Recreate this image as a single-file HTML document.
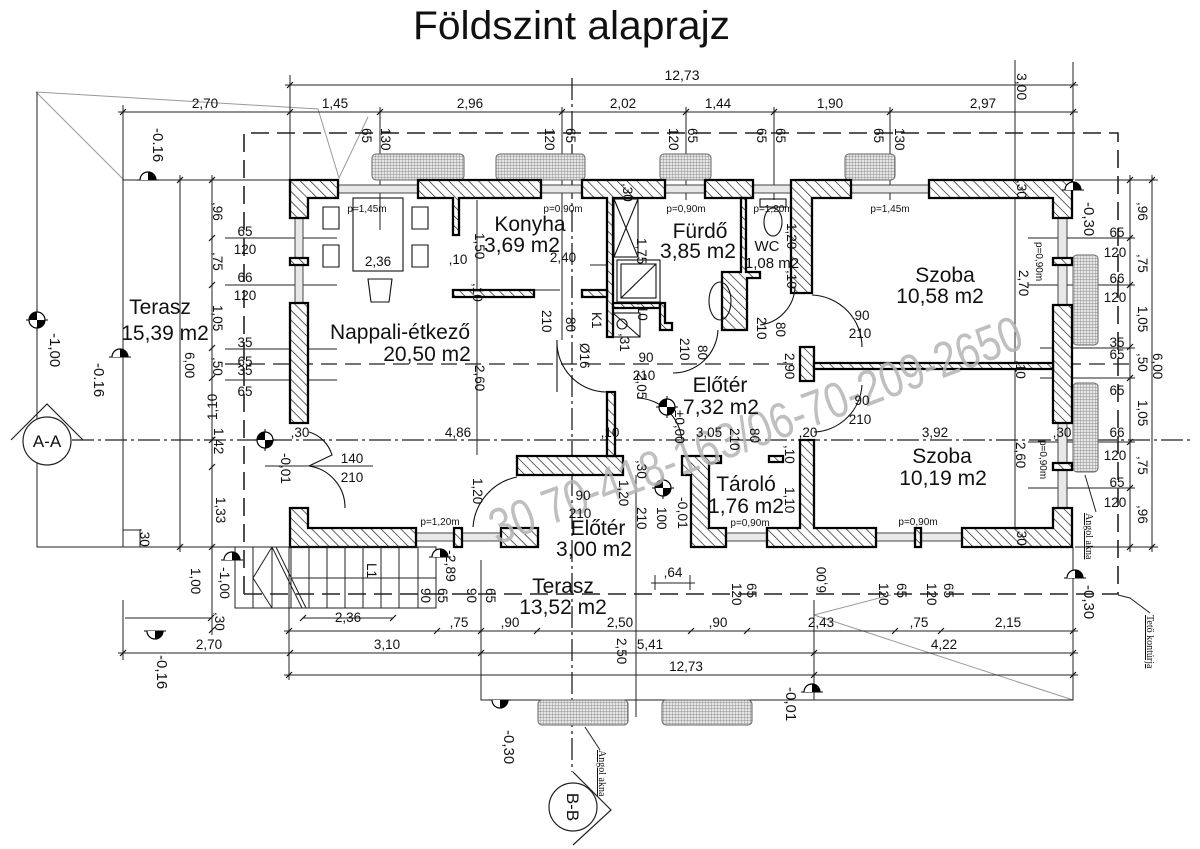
<!DOCTYPE html>
<html><head><meta charset="utf-8"><style>
html,body{margin:0;padding:0;background:#fff}
svg{display:block}
text{font-family:"Liberation Sans",sans-serif;fill:#111}
.d{font-size:13.5px}
.s{font-size:10px}
.r{font-size:21px}
.t{font-family:"Liberation Serif",serif;font-size:10px;text-decoration:underline}
</style></head><body>
<svg width="1200" height="849" viewBox="0 0 1200 849">
<defs>
<pattern id="h" width="7" height="7" patternUnits="userSpaceOnUse" patternTransform="rotate(-45)">
<rect width="7" height="7" fill="#fff"/><line x1="0" y1="0" x2="0" y2="7" stroke="#222" stroke-width="1.4"/>
</pattern>
<pattern id="g" width="3" height="3" patternUnits="userSpaceOnUse"><rect width="3" height="3" fill="#e6e6e6"/><path d="M0 0H3M0 0V3" stroke="#777" stroke-width="0.7"/></pattern>
<g id="cm"><line x1="-11" y1="0" x2="11" y2="0" stroke="#000"/><line x1="0" y1="-11" x2="0" y2="11" stroke="#000"/><circle r="8" fill="#fff" stroke="#000" stroke-width="1.2"/><path d="M0,0 L8,0 A8,8 0 0,1 0,8Z M0,0 L-8,0 A8,8 0 0,1 0,-8Z" fill="#000"/></g>
<g id="hm"><line x1="-11" y1="0" x2="11" y2="0" stroke="#000"/><path d="M-8,0 A8,8 0 0,1 8,0" fill="#fff" stroke="#000" stroke-width="1.2"/><path d="M0,0 L0,-8 A8,8 0 0,1 8,0Z" fill="#000"/></g>
<g id="hd"><line x1="-11" y1="0" x2="11" y2="0" stroke="#000"/><path d="M-8,0 A8,8 0 0,0 8,0" fill="#fff" stroke="#000" stroke-width="1.2"/><path d="M0,0 L0,8 A8,8 0 0,0 8,0Z" fill="#000"/></g>
</defs>

<!-- Title -->
<text x="413" y="39" font-size="40" textLength="317" lengthAdjust="spacingAndGlyphs">Földszint alaprajz</text>

<!-- grey roof lines -->
<g stroke="#999" stroke-width="1" fill="none">
<path d="M36,92 L318,109 L339,178 L368,117 M36,92 L123,179"/>
<path d="M814,615 L1073,700 M814,615 L891,595"/>
</g>

<!-- dimension lines -->
<g stroke="#222" stroke-width="1" fill="none">
<path d="M285,85 H1078 M290,75 V110 M1073,62 V180"/>
<path d="M118,112 H1078 M123,105 V180 M380,107 V230 M562,107 V340 M686,107 V200 M774,107 V200 M890,107 V200 M290,105 V180"/>
<path d="M1015,60 V547"/>
<path d="M1130,175 V552 M1152,175 V552 M1075,180 H1158 M1075,547 H1158"/>
<path d="M1028,238 H1135 M1028,285 H1135 M1040,348 H1135 M1040,378 H1135 M1028,442 H1135 M1028,488 H1135"/>
<path d="M180,175 V552 M212,175 V635 M123,180 H290 M123,180 V547 M37,92 V547 H290"/>
<path d="M225,238 H337 M225,285 H337 M225,349 H337 M225,380 H337"/>
<path d="M123,530 H140 V547"/>
<path d="M125,618 H211 M303,618 H393"/>
<path d="M284,631 H1078 M284,653 H1078 M118,653 H290 M284,675 H1078"/>
<path d="M289,547 V680 M123,600 V660 M481,560 V700 H1073 V547 M636,475 V717 M814,600 V700 M1073,547 V700"/>
<path d="M651,583 H695 M655,575 V590 M690,575 V590"/>
<path d="M477,200 V455 M265,466 H373 M1085,475 L1096,512 M585,727 L600,750 M1118,595 L1130,598 L1150,613"/>
<path d="M590,265 H610 M455,290 H560"/>
<path d="M1016,363 V372"/>
</g>
<!-- ticks -->
<g stroke="#111" stroke-width="1.2" fill="none">
<path d="M287,88 L293,82 M1070,88 L1076,82
M120,115 L126,109 M287,115 L293,109 M377,115 L383,109 M559,115 L565,109 M683,115 L689,109 M771,115 L777,109 M887,115 L893,109 M1070,115 L1076,109
M1127,183 L1133,177 M1127,241 L1133,235 M1127,288 L1133,282 M1127,350 L1133,344 M1127,381 L1133,375 M1127,445 L1133,439 M1127,491 L1133,485 M1127,550 L1133,544
M1149,183 L1155,177 M1149,550 L1155,544
M177,183 L183,177 M177,550 L183,544
M209,183 L215,177 M209,241 L215,235 M209,288 L215,282 M209,351 L215,345 M209,381 L215,375 M209,443 L215,437 M209,470 L215,464 M209,550 L215,544 M209,633 L215,627
M208,621 L214,615 M300,621 L306,615 M390,621 L396,615
M286,634 L292,628 M434,634 L440,628 M478,634 L484,628 M534,634 L540,628 M688,634 L694,628 M744,634 L750,628 M892,634 L898,628 M938,634 L944,628 M1070,634 L1076,628
M120,656 L126,650 M287,656 L293,650 M478,656 L484,650 M811,656 L817,650 M1070,656 L1076,650
M286,678 L292,672 M811,678 L817,672 M1070,678 L1076,672"/>
</g>

<!-- roof dashed outline -->
<path d="M244,594 V133 H1118 V594 H244" fill="none" stroke="#222" stroke-width="1.6" stroke-dasharray="18 8"/>
<path d="M225,364 H1130" fill="none" stroke="#222" stroke-width="1.3" stroke-dasharray="16 8"/>
<!-- section axes -->
<path d="M72,440 H1190" fill="none" stroke="#222" stroke-width="1.3" stroke-dasharray="22 4 3 4"/>
<path d="M572,78 V772" fill="none" stroke="#222" stroke-width="1.3" stroke-dasharray="22 4 3 4"/>

<!-- light wells -->
<g fill="url(#g)" stroke="#666" stroke-width="1">
<rect x="372" y="154" width="92" height="26" rx="4"/>
<rect x="496" y="154" width="89" height="26" rx="4"/>
<rect x="660" y="154" width="51" height="26" rx="4"/>
<rect x="845" y="154" width="50" height="26" rx="4"/>
<rect x="1073" y="255" width="25" height="90" rx="4"/>
<rect x="1073" y="383" width="25" height="89" rx="4"/>
<rect x="538" y="700" width="90" height="25" rx="4"/>
<rect x="662" y="700" width="90" height="25" rx="4"/>
</g>

<!-- windows -->
<g fill="#e8e8e8" stroke="#333" stroke-width="0.9">
<rect x="338" y="185" width="80" height="8"/>
<rect x="541" y="185" width="41" height="8"/>
<rect x="665" y="185" width="40" height="8"/>
<rect x="753" y="185" width="38" height="8"/>
<rect x="851" y="185" width="78" height="8"/>
<rect x="295" y="218" width="8" height="85"/>
<rect x="1058" y="218" width="9" height="87"/>
<rect x="1058" y="423" width="9" height="85"/>
<rect x="416" y="533" width="85" height="8"/>
<rect x="726" y="533" width="41" height="8"/>
<rect x="876" y="533" width="86" height="8"/>
</g>

<!-- walls -->
<g fill="url(#h)" stroke="#000" stroke-width="2.3" stroke-linejoin="miter">
<path d="M290,180 H338 V198 H308 V218 H290Z"/>
<path d="M418,180 H541 V198 H459 V235 H453 V198 H418Z"/>
<path d="M582,180 H665 V198 H613 V337 H607 V198 H582Z"/>
<path d="M705,180 H753 V198 H705Z"/>
<path d="M791,180 H851 V198 H812 V293 H791Z"/>
<path d="M929,180 H1072 V218 H1053 V198 H929Z"/>
<path d="M1053,305 H1072 V423 H1053Z"/>
<path d="M1053,508 H1072 V547 H962 V528 H1053Z"/>
<path d="M767,528 H800 V440 H814 V528 H876 V547 H767Z"/>
<path d="M682,456 H721 V463 H709 V528 H726 V547 H691 V475 H682Z"/>
<path d="M769,456 H783 V462 H769Z"/>
<path d="M501,528 H538 V547 H501Z"/>
<path d="M290,508 H308 V528 H416 V547 H290Z"/>
<path d="M290,303 H308 V423 H290Z"/>
<path d="M517,456 H623 V475 H517Z"/>
<path d="M607,392 H615 V456 H607Z"/>
<path d="M800,347 H814 V381 H800Z"/>
<path d="M814,363 H1053 V369 H814Z"/>
<path d="M453,290 H534 V297 H453Z"/>
<path d="M582,290 H607 V297 H582Z"/>
<path d="M741,198 H746 V272 H760 V278 H747 V330 H722 V272 H741Z"/>
<path d="M613,303 H660 V308 H613Z"/>
<path d="M660,303 H665 V323 H672 V330 H660Z"/>
<path d="M290,258 H308 V265 H290Z"/>
<path d="M1053,258 H1072 V265 H1053Z"/>
<path d="M1053,463 H1072 V470 H1053Z"/>
<path d="M454,528 H462 V547 H454Z"/>
<path d="M915,528 H921 V547 H915Z"/>
</g>

<!-- fixtures -->
<g fill="none" stroke="#111" stroke-width="1.1">
<rect x="353" y="198" width="50" height="73"/>
<path d="M323,207 H339 V229 H323Z M323,245 H339 V267 H323Z M412,207 H428 V229 H412Z M412,245 H428 V267 H412Z"/>
<path d="M368,279 H392 L389,302 H371Z"/>
<rect x="617" y="260" width="43" height="42"/><rect x="621" y="264" width="35" height="34"/>
<path d="M621,298 L656,264"/>
<rect x="614" y="199" width="24" height="58"/><path d="M614,199 L638,257 M638,199 L614,257"/>
<rect x="613" y="313" width="27" height="24"/><circle cx="622" cy="324" r="5"/><path d="M613,313 L640,337"/>
<rect x="760" y="199" width="26" height="8"/><ellipse cx="773" cy="222" rx="9" ry="14"/>
<ellipse cx="720" cy="301" rx="11" ry="19"/>
<!-- doors -->
<path d="M309,466 A42,42 0 0,1 345,508 M309,432 A34,34 0 0,1 332,455 L309,466"/>
<path d="M557,340 A50,50 0 0,0 607,392 M557,340 V392"/>
<path d="M637,398 A46,46 0 0,1 682,445"/>
<path d="M812,295 A52,52 0 0,1 862,347"/>
<path d="M814,432 A50,50 0 0,0 862,385"/>
<path d="M795,287 A40,40 0 0,1 760,325"/>
<path d="M517,477 A55,55 0 0,0 473,527"/>
<path d="M673,373 A45,45 0 0,0 718,330"/>
</g>

<!-- stairs -->
<g fill="none" stroke="#222" stroke-width="1">
<rect x="235" y="547" width="201" height="61"/>
<path d="M253,547 V608 M272,547 V608 M291,547 V608 M309,547 V608 M327,547 V608 M345,547 V608 M363,547 V608 M381,547 V608 M399,547 V608 M418,547 V608"/>
<path d="M291,578 H436 M272,547 L253,578 L272,608 M272,547 L302,608 M276,547 L306,608"/>
</g>

<!-- level markers -->
<use href="#cm" x="37" y="320"/>
<use href="#cm" x="265" y="440"/>
<use href="#cm" x="667" y="407"/>
<use href="#cm" x="663" y="488"/>
<use href="#hm" x="148" y="180"/>
<use href="#hm" x="120" y="357"/>
<use href="#hm" x="232" y="560"/>
<use href="#hm" x="440" y="557"/>
<use href="#hd" x="155" y="631"/>
<use href="#hd" x="500" y="700"/>
<use href="#hm" x="812" y="692"/>
<use href="#hm" x="1075" y="578"/>
<use href="#hm" x="1073" y="190"/>

<!-- section markers -->
<g fill="#fff" stroke="#222" stroke-width="1.2">
<path d="M11,440 L47,404 L83,440" fill="none"/>
<circle cx="47" cy="441" r="24"/>
<path d="M573,772 L611,810 L573,845" fill="none"/>
<circle cx="573" cy="807" r="24"/>
</g>
<text x="47" y="447" font-size="17" text-anchor="middle">A-A</text>
<text transform="translate(567,807) rotate(90)" font-size="17" text-anchor="middle">B-B</text>

<!-- watermark -->
<text transform="translate(497,545) rotate(-20.5)" font-size="50" style="fill:#b4b4b4;opacity:0.85" textLength="565" lengthAdjust="spacingAndGlyphs">30 70-418-163/06-70-209-2650</text>

<!-- room labels -->
<g class="r" text-anchor="middle">
<text x="530" y="231">Konyha</text>
<text x="522" y="252">3,69 m2</text>
<text x="700" y="238">Fürdő</text>
<text x="698" y="258">3,85 m2</text>
<text x="945" y="282">Szoba</text>
<text x="940" y="303">10,58 m2</text>
<text x="400" y="339">Nappali-étkező</text>
<text x="427" y="361">20,50 m2</text>
<text x="720" y="392">Előtér</text>
<text x="721" y="414">7,32 m2</text>
<text x="942" y="463">Szoba</text>
<text x="943" y="485">10,19 m2</text>
<text x="746" y="491">Tároló</text>
<text x="746" y="513">1,76 m2</text>
<text x="598" y="535">Előtér</text>
<text x="594" y="556">3,00 m2</text>
<text x="563" y="593">Terasz</text>
<text x="563" y="614">13,52 m2</text>
<text x="160" y="314">Terasz</text>
<text x="165" y="340">15,39 m2</text>
</g>
<text x="767" y="251" font-size="15" text-anchor="middle">WC</text>
<text x="772" y="268" font-size="15" text-anchor="middle">1,08 m2</text>

<!-- horizontal dim labels -->
<g class="d" text-anchor="middle">
<text x="682" y="80" font-size="14">12,73</text>
<text x="205" y="108">2,70</text><text x="335" y="108">1,45</text><text x="470" y="108">2,96</text><text x="623" y="108">2,02</text><text x="718" y="108">1,44</text><text x="830" y="108">1,90</text><text x="983" y="108">2,97</text>
<text x="245" y="236">65</text><text x="245" y="254">120</text><text x="245" y="282">66</text><text x="245" y="300">120</text><text x="245" y="347">35</text><text x="245" y="366">65</text><text x="245" y="375">35</text><text x="245" y="396">65</text>
<text x="1117" y="237">65</text><text x="1115" y="257">120</text><text x="1117" y="283">66</text><text x="1115" y="302">120</text><text x="1117" y="347">35</text><text x="1117" y="359">65</text><text x="1117" y="395">65</text><text x="1117" y="437">66</text><text x="1115" y="460">120</text><text x="1117" y="487">65</text><text x="1115" y="507">120</text>
<text x="378" y="266">2,36</text><text x="458" y="264">,10</text><text x="563" y="262">2,40</text>
<text x="300" y="437">,30</text><text x="458" y="437">4,86</text><text x="610" y="437">,10</text><text x="709" y="437">3,05</text><text x="808" y="437">,20</text><text x="935" y="437">3,92</text><text x="1062" y="437">,30</text>
<text x="352" y="463">140</text><text x="352" y="482">210</text>
<text x="646" y="362">90</text><text x="644" y="380">210</text>
<text x="862" y="320">90</text><text x="860" y="338">210</text>
<text x="862" y="405">90</text><text x="860" y="424">210</text>
<text x="583" y="500">90</text><text x="580" y="518">210</text>
<text x="673" y="577">,64</text>
<text x="348" y="622">2,36</text>
<text x="459" y="627">,75</text><text x="510" y="627">,90</text><text x="620" y="627">2,50</text><text x="718" y="627">,90</text><text x="821" y="627">2,43</text><text x="919" y="627">,75</text><text x="1008" y="627">2,15</text>
<text x="209" y="649">2,70</text><text x="387" y="649">3,10</text><text x="650" y="649">5,41</text><text x="944" y="649">4,22</text>
<text x="686" y="671">12,73</text>
</g>
<g class="s" text-anchor="middle">
<text x="367" y="212">p=1,45m</text>
<text x="563" y="212">p=0,90m</text>
<text x="686" y="212">p=0,90m</text>
<text x="773" y="212">p=1,20m</text>
<text x="890" y="212">p=1,45m</text>
<text x="440" y="525">p=1,20m</text>
<text x="750" y="526">p=0,90m</text>
<text x="918" y="525">p=0,90m</text>
</g>

<!-- rotated dim labels (reading downward) -->
<g class="d">
<text transform="translate(153,128) rotate(90)" font-size="15">-0.16</text>
<text transform="translate(1017,73) rotate(90)" font-size="14">3,00</text>
<text transform="translate(362,128) rotate(90)">65</text>
<text transform="translate(381,128) rotate(90)">130</text>
<text transform="translate(545,128) rotate(90)">120</text>
<text transform="translate(566,128) rotate(90)">65</text>
<text transform="translate(669,128) rotate(90)">120</text>
<text transform="translate(688,128) rotate(90)">65</text>
<text transform="translate(757,128) rotate(90)">65</text>
<text transform="translate(776,128) rotate(90)">65</text>
<text transform="translate(874,128) rotate(90)">65</text>
<text transform="translate(895,128) rotate(90)">130</text>
<text transform="translate(213,202) rotate(90)">,96</text>
<text transform="translate(213,252) rotate(90)">,75</text>
<text transform="translate(213,305) rotate(90)">1,05</text>
<text transform="translate(213,357) rotate(90)">,50</text>
<text transform="translate(214,428) rotate(90)">1,42</text>
<text transform="translate(216,497) rotate(90)">1,33</text>
<text transform="translate(185,352) rotate(90)">6,00</text>
<text transform="translate(140,528) rotate(90)">,30</text>
<text transform="translate(94,363) rotate(90)" font-size="15">-0.16</text>
<text transform="translate(50,333) rotate(90)" font-size="15">-1,00</text>
<text transform="translate(281,453) rotate(90)">-0,01</text>
<text transform="translate(191,568) rotate(90)">1,00</text>
<text transform="translate(220,567) rotate(90)" font-size="14">-1,00</text>
<text transform="translate(446,550) rotate(90)" font-size="14">-2,89</text>
<text transform="translate(367,563) rotate(90)">L1</text>
<text transform="translate(421,588) rotate(90)">90</text>
<text transform="translate(438,588) rotate(90)">65</text>
<text transform="translate(467,588) rotate(90)">90</text>
<text transform="translate(486,588) rotate(90)">65</text>
<text transform="translate(215,612) rotate(90)">,30</text>
<text transform="translate(157,655) rotate(90)" font-size="15">-0,16</text>
<text transform="translate(475,233) rotate(90)">1,50</text>
<text transform="translate(473,283) rotate(90)">,10</text>
<text transform="translate(475,365) rotate(90)">2,60</text>
<text transform="translate(542,310) rotate(90)">210</text>
<text transform="translate(566,317) rotate(90)">80</text>
<text transform="translate(592,312) rotate(90)">K1</text>
<text transform="translate(580,343) rotate(90)">Ø16</text>
<text transform="translate(620,333) rotate(90)">,31</text>
<text transform="translate(637,238) rotate(90)">1,75</text>
<text transform="translate(638,302) rotate(90)">,10</text>
<text transform="translate(680,338) rotate(90)">210</text>
<text transform="translate(698,345) rotate(90)">80</text>
<text transform="translate(787,223) rotate(90)">1,20</text>
<text transform="translate(787,270) rotate(90)">,10</text>
<text transform="translate(757,317) rotate(90)">210</text>
<text transform="translate(776,322) rotate(90)">80</text>
<text transform="translate(785,353) rotate(90)">2,90</text>
<text transform="translate(637,373) rotate(90)">2,05</text>
<text transform="translate(675,410) rotate(90)">±0,00</text>
<text transform="translate(730,428) rotate(90)">210</text>
<text transform="translate(750,428) rotate(90)">80</text>
<text transform="translate(637,460) rotate(90)">,30</text>
<text transform="translate(619,480) rotate(90)">1,20</text>
<text transform="translate(473,478) rotate(90)">1,20</text>
<text transform="translate(637,507) rotate(90)">210</text>
<text transform="translate(657,507) rotate(90)">100</text>
<text transform="translate(678,497) rotate(90)" font-size="14">-0,01</text>
<text transform="translate(785,445) rotate(90)">,10</text>
<text transform="translate(785,487) rotate(90)">1,10</text>
<text transform="translate(1019,270) rotate(90)">2,70</text>
<text transform="translate(1016,442) rotate(90)">2,60</text>
<text transform="translate(1016,360) rotate(90)">,10</text>
<text transform="translate(1017,180) rotate(90)">,30</text>
<text transform="translate(1017,527) rotate(90)">,30</text>
<text transform="translate(623,183) rotate(90)">,30</text>
<text transform="translate(1084,202) rotate(90)" font-size="15">-0,30</text>
<text transform="translate(1138,202) rotate(90)">,96</text>
<text transform="translate(1138,254) rotate(90)">,75</text>
<text transform="translate(1138,306) rotate(90)">1,05</text>
<text transform="translate(1138,353) rotate(90)">,50</text>
<text transform="translate(1138,400) rotate(90)">1,05</text>
<text transform="translate(1138,456) rotate(90)">,75</text>
<text transform="translate(1138,505) rotate(90)">,96</text>
<text transform="translate(1153,353) rotate(90)">6,00</text>
<text transform="translate(1084,585) rotate(90)" font-size="15">-0,30</text>
<text transform="translate(732,583) rotate(90)">120</text>
<text transform="translate(747,583) rotate(90)">65</text>
<text transform="translate(879,583) rotate(90)">120</text>
<text transform="translate(897,583) rotate(90)">65</text>
<text transform="translate(927,583) rotate(90)">120</text>
<text transform="translate(944,583) rotate(90)">65</text>
<text transform="translate(617,638) rotate(90)">2,50</text>
<text transform="translate(786,687) rotate(90)" font-size="15">-0,01</text>
<text transform="translate(504,730) rotate(90)" font-size="15">-0,30</text>
<text transform="translate(1036,242) rotate(90)" class="s">p=0,90m</text>
<text transform="translate(1040,440) rotate(90)" class="s">p=0,90m</text>
<text transform="translate(826,593) rotate(-90)">6,00</text>
<text transform="translate(217,420) rotate(-90)">1,10</text>
</g>
<text class="t" transform="translate(1086,513) rotate(90)">Angol akna</text>
<text class="t" transform="translate(599,750) rotate(90)">Angol akna</text>
<text class="t" transform="translate(1147,615) rotate(90)">Tető kontúrja</text>
</svg>
</body></html>
